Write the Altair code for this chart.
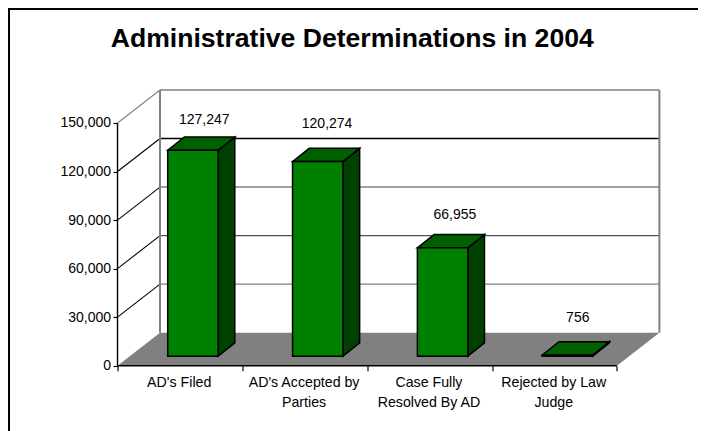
import altair as alt
import pandas as pd

# ---- data ----
categories = ["AD's Filed", "AD's Accepted by\nParties", "Case Fully\nResolved By AD", "Rejected by Law\nJudge"]
values = [127247, 120274, 66955, 756]
y_ticks = [0, 30000, 60000, 90000, 120000, 150000]
title = "Administrative Determinations in 2004"

# ---- layout (in axis units) ----
PX_X = 124.85          # pixels per category slot
PX_Y = 242.7 / 150000  # pixels per value unit
W, H = 541.5, 276.7    # plot area: axis corner to wall's far corner
DX, DY = 42.5 / PX_X, 33 / PX_Y          # wall depth
BDX, BDY = 16.7 / PX_X, 13.3 / PX_Y      # bar depth
BW = 50.4 / PX_X                         # bar width
BX0 = 50.2 / PX_X                        # front-left corner of a bar inside its slot
BY0 = 9.5 / PX_Y                         # bar base height above the axis line
LABEL_GAP = [13, 20, 16, 20]             # label gap above the bar, px
LABEL_SHIFT = [3, 1, 4, 2]               # label shift from the bar's centre, px

n = len(categories)
xs = alt.Scale(domain=[0, W / PX_X], nice=False, zero=False)
ys = alt.Scale(domain=[0, H / PX_Y], nice=False, zero=False)
x_axis = alt.Axis(values=list(range(n + 1)), labels=False, title=None, grid=False, domain=False,
                  tickColor="#000000", tickSize=5, tickWidth=1.2)
y_axis = alt.Axis(values=y_ticks, labelExpr="format(datum.value, ',')", title=None, grid=False, domain=False,
                  tickColor="#000000", tickSize=4.5, tickWidth=1.2, labelPadding=2.5,
                  labelFont="Liberation Sans", labelFontSize=14, labelColor="#000000")
X = lambda f="x": alt.X(f"{f}:Q", scale=xs, axis=x_axis)
Y = lambda f="y": alt.Y(f"{f}:Q", scale=ys, axis=y_axis)


def area(points, color, stroke=None, sw=0):
    df = pd.DataFrame(points, columns=["x", "y", "y2"])
    kw = {"color": color, "opacity": 1, "interpolate": "linear"}
    if stroke:
        kw.update(stroke=stroke, strokeWidth=sw, strokeJoin="miter")
    return alt.Chart(df).mark_area(**kw).encode(X(), Y(), y2="y2:Q")


def seg(x0, y0, x1, y1, color, sw=1.2):
    df = pd.DataFrame([{"x": x0, "y": y0, "x2": x1, "y2": y1}])
    return alt.Chart(df).mark_rule(color=color, strokeWidth=sw).encode(X(), Y(), x2="x2:Q", y2="y2:Q")


layers = []

# floor
layers.append(area([(0, 0, 0), (DX, DY, 0), (n, DY, 0), (n + DX, DY, DY)], "#808080"))

# wall grid lines and side wall diagonals
grid_colors = ["#808080", "#808080", "#505050", "#808080", "#000000", "#808080"]
for v, c in zip(y_ticks, grid_colors):
    if v > 0:
        layers.append(seg(DX, v + DY, n + DX, v + DY, c, 1.4))
        layers.append(seg(0, v, DX, v + DY, "#808080" if v == 150000 else "#000000", 1.1))
layers.append(seg(DX, DY, DX, 150000 + DY, "#808080", 2))
layers.append(seg(n + DX, DY, n + DX, 150000 + DY, "#808080", 2))

# bars
for i, v in enumerate(values):
    x0 = i + BX0
    x1 = x0 + BW
    base = BY0
    top = base + v
    # side face
    layers.append(area([(x1, top, base), (x1 + BDX, top + BDY, base + BDY)], "#004000", "#000000", 1.5))
    # top face
    layers.append(area([(x0, top, top), (x0 + BDX, top + BDY, top), (x1, top + BDY, top),
                        (x1 + BDX, top + BDY, top + BDY)], "#006000", "#000000", 1.5))
    # front face
    layers.append(area([(x0, top, base), (x1, top, base)], "#008000", "#000000", 1.5))

# data labels
for i, v in enumerate(values):
    r = pd.DataFrame([{"x": i + BX0 + (BW + BDX) / 2, "y": BY0 + v + BDY, "t": f"{v:,}"}])
    layers.append(alt.Chart(r).mark_text(
        font="Liberation Sans", fontSize=14, color="#000000", baseline="alphabetic",
        align="center", dx=LABEL_SHIFT[i], dy=-LABEL_GAP[i]).encode(X(), Y(), text="t:N"))

# category labels
cat = pd.DataFrame({"x": [i + 0.5 for i in range(n)], "y": [-21.3 / PX_Y] * n, "t": categories})
layers.append(alt.Chart(cat).mark_text(
    font="Liberation Sans", fontSize=14.2, color="#000000", baseline="alphabetic",
    align="center", dx=-0.7, lineBreak="\n", lineHeight=20).encode(X(), Y(), text="t:N"))

layers.append(seg(0, 0, 0, 150000, "#000000", 1.4))
layers.append(seg(0, 0, n, 0, "#000000", 1.4))

# outer frame: top and left edges only are inside the picture
frame_top = alt.Chart(pd.DataFrame({"a": [0]})).mark_rule(color="#000000", strokeWidth=2).encode(
    x=alt.value(-110), x2=alt.value(600), y=alt.value(-80))
frame_left = alt.Chart(pd.DataFrame({"a": [0]})).mark_rule(color="#000000", strokeWidth=2).encode(
    x=alt.value(-108.5), y=alt.value(-81), y2=alt.value(345))
layers += [frame_top, frame_left]

chart = alt.layer(*layers).properties(
    width=W, height=H,
    padding={"left": 109.5, "top": 81, "right": 39, "bottom": 65},
    autosize=alt.AutoSizeParams(type="none"),
    title=alt.TitleParams(title, font="Liberation Sans", fontSize=26.6, fontWeight="bold", color="#000000",
                          anchor="middle", dx=-36, dy=71, baseline="alphabetic"),
    background="white",
).configure_view(stroke=None)

chart.save("out.html", embed_options={"renderer": "svg", "actions": False})
